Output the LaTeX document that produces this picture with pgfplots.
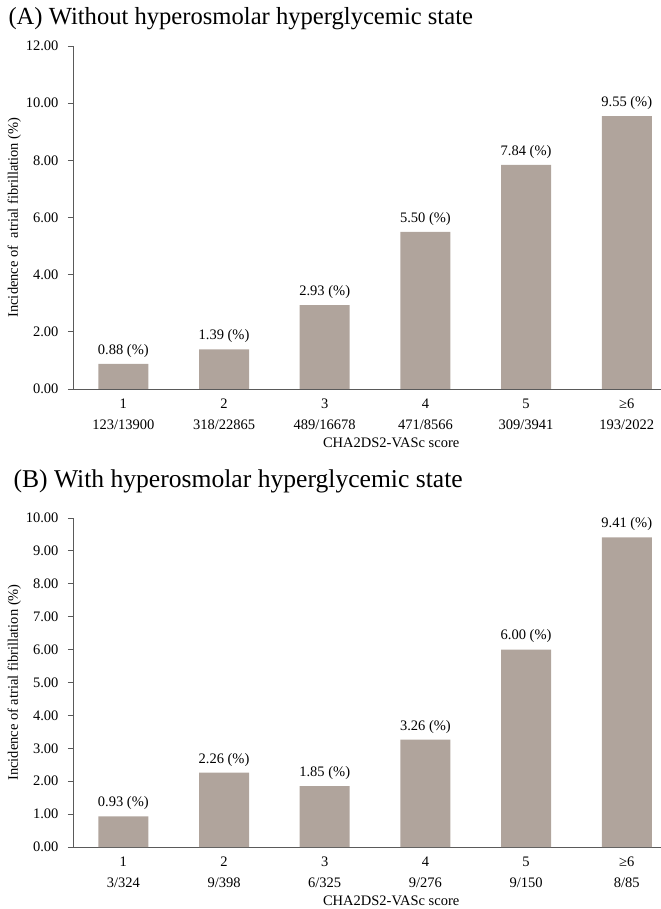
\documentclass[border=0pt]{standalone}
\usepackage{pgfplots}
\pgfplotsset{compat=1.18}
\usepackage{fontspec}
\setmainfont{Liberation Serif}

\definecolor{barfill}{RGB}{176,164,156}
\definecolor{axisgray}{RGB}{90,90,90}

\newcommand\titlefontA{\fontsize{24.6bp}{30bp}\selectfont}
\newcommand\titlefontB{\fontsize{25.6bp}{30bp}\selectfont}
\newcommand\tickfont{\fontsize{14.5bp}{21.5bp}\selectfont}
\newcommand\labelfont{\fontsize{14.5bp}{17bp}\selectfont}

\pgfplotsset{
  afbars/.style={
    scale only axis,
    width=588bp,
    axis lines*=left,
    axis line style={axisgray, line width=0.9bp},
    xmin=-0.5, xmax=5.34, ymin=0,
    xtick={0,1,2,3,4,5},
    x tick style={draw=none},
    y tick style={axisgray, line width=0.9bp},
    tick align=outside,
    major tick length=5bp,
    tick label style={font=\tickfont, text=black},
    yticklabel style={xshift=-6bp, /pgf/number format/.cd, fixed, fixed zerofill, precision=2, assume math mode=true},
    xticklabel style={align=center, yshift=-1bp},
    ylabel={Incidence of\ \ atrial fibrillation (\%)},
    ylabel style={font=\labelfont, at={(axis description cs:-0.1,0.5)}, anchor=center},
    xlabel={CHA2DS2-VASc score},
    xlabel style={font=\tickfont, at={(axis cs:2.66,0)}, anchor=center, yshift=-54bp},
    ybar, bar width=50bp,
    nodes near coords={\pgfmathprintnumber[fixed,fixed zerofill,precision=2,assume math mode=true]{\pgfplotspointmeta} (\%)},
    every node near coord/.append style={font=\tickfont, text=black, anchor=south, yshift=3bp},
    clip=false,
  }
}

\begin{document}
\begin{tikzpicture}[x=1bp,y=1bp]
\useasboundingbox (0,0) rectangle (661,909);

% Panel A
\node[anchor=west, font=\titlefontA] at (5,890) {(A) Without hyperosmolar hyperglycemic state};
\begin{axis}[afbars,
  at={(73bp,520bp)}, anchor=south west,
  height=343bp, ymax=12, ytick={0,2,...,12},
  xticklabels={1\\123/13900, 2\\318/22865, 3\\489/16678, 4\\471/8566, 5\\309/3941, ≥6\\193/2022},
]
\addplot[fill=barfill, draw=none] coordinates {
  (0,0.88) (1,1.39) (2,2.93) (3,5.50) (4,7.84) (5,9.55)
};
\end{axis}

% Panel B
\node[anchor=west, font=\titlefontB] at (10,428) {(B) With hyperosmolar hyperglycemic state};
\begin{axis}[afbars,
  at={(73bp,62bp)}, anchor=south west,
  height=329bp, ymax=10, ytick={0,1,...,10},
  ylabel={Incidence of atrial fibrillation (\%)},
  xticklabels={1\\3/324, 2\\9/398, 3\\6/325, 4\\9/276, 5\\9/150, ≥6\\8/85},
]
\addplot[fill=barfill, draw=none] coordinates {
  (0,0.93) (1,2.26) (2,1.85) (3,3.26) (4,6.00) (5,9.41)
};
\end{axis}
\end{tikzpicture}
\end{document}
